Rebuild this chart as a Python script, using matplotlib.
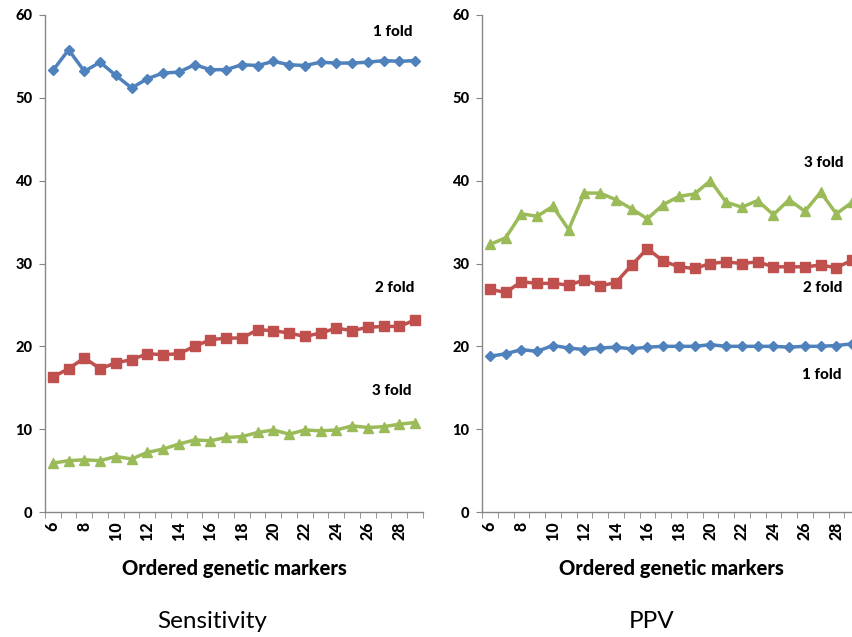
import matplotlib.pyplot as plt
import numpy as np

# ordered genetic markers on x
markers = list(range(6, 30))

# Sensitivity panel
sens_1fold = [53.3, 55.8, 53.2, 54.3, 52.7, 51.2, 52.3, 53.0, 53.1, 54.0, 53.4, 53.4,
              54.0, 53.9, 54.4, 54.0, 53.9, 54.3, 54.2, 54.2, 54.3, 54.5, 54.4, 54.5]
sens_2fold = [16.3, 17.3, 18.6, 17.3, 18.0, 18.4, 19.1, 19.0, 19.1, 20.0, 20.8, 21.0,
              21.0, 22.0, 21.9, 21.6, 21.2, 21.6, 22.2, 21.9, 22.3, 22.4, 22.4, 23.2]
sens_3fold = [5.9, 6.2, 6.3, 6.2, 6.7, 6.4, 7.2, 7.6, 8.2, 8.7, 8.6, 9.0,
              9.1, 9.6, 9.9, 9.4, 9.9, 9.8, 9.9, 10.4, 10.2, 10.3, 10.6, 10.8]

# PPV panel
ppv_1fold = [18.8, 19.1, 19.6, 19.4, 20.1, 19.8, 19.6, 19.8, 19.9, 19.7, 19.9, 20.0,
             20.0, 20.0, 20.2, 20.0, 20.0, 20.0, 20.0, 19.9, 20.0, 20.0, 20.1, 20.3]
ppv_2fold = [26.9, 26.5, 27.8, 27.6, 27.6, 27.4, 28.0, 27.3, 27.7, 29.8, 31.8, 30.3,
             29.6, 29.4, 30.0, 30.2, 30.0, 30.2, 29.6, 29.6, 29.6, 29.8, 29.5, 30.4]
ppv_3fold = [32.3, 33.1, 36.0, 35.7, 36.9, 34.1, 38.5, 38.5, 37.7, 36.6, 35.4, 37.1,
             38.1, 38.4, 40.0, 37.4, 36.8, 37.6, 35.9, 37.7, 36.3, 38.6, 36.0, 37.4]

blue = '#4F81BD'
red = '#C0504D'
green = '#9BBB59'
FONT = 'Lato'

fig = plt.figure(figsize=(8.53, 6.37), dpi=100)
W, H = 853, 637


def make_axes(left_px):
    ax = fig.add_axes([left_px / W, 1 - 512 / H, 378 / W, 497 / H])
    x = np.arange(len(markers))
    ax.set_xlim(-0.5, len(markers) - 0.5)
    ax.set_ylim(0, 60)
    ax.set_yticks(range(0, 61, 10))
    ax.set_yticklabels([str(v) for v in range(0, 61, 10)],
                       fontfamily=FONT, fontweight='black', fontsize=10.5)
    ax.set_xticks(x[::2])
    ax.set_xticklabels([str(m) for m in markers[::2]], rotation=90,
                       fontfamily=FONT, fontweight='black', fontsize=11.5)
    ax.set_xticks(np.arange(-0.5, len(markers)), minor=True)
    ax.tick_params(axis='x', which='major', length=0, pad=7)
    ax.tick_params(axis='x', which='minor', length=4, color='#868686', direction='out')
    ax.tick_params(axis='y', length=4, color='#868686', direction='out', pad=5)
    for s in ['top', 'right']:
        ax.spines[s].set_visible(False)
    for s in ['left', 'bottom']:
        ax.spines[s].set_color('#868686')
        ax.spines[s].set_linewidth(1)
    ax.set_xlabel('Ordered genetic markers', fontfamily=FONT, fontweight='black',
                  fontsize=14.5, labelpad=13)
    return ax, x


def draw(ax, x, y, color, marker, ms):
    ax.plot(x, y, color=color, lw=2.5, marker=marker, ms=ms,
            markerfacecolor=color, markeredgecolor=color, clip_on=False)


ax1, x = make_axes(45)
draw(ax1, x, sens_1fold, blue, 'D', 5.5)
draw(ax1, x, sens_2fold, red, 's', 7)
draw(ax1, x, sens_3fold, green, '^', 7)
lab = dict(fontfamily=FONT, fontweight='black', fontsize=11, ha='center', va='center')
ax1.text(21.6, 58.0, '1 fold', **lab)
ax1.text(21.7, 27.0, '2 fold', **lab)
ax1.text(21.5, 14.6, '3 fold', **lab)

ax2, x = make_axes(482)
draw(ax2, x, ppv_1fold, blue, 'D', 5.5)
draw(ax2, x, ppv_2fold, red, 's', 7)
draw(ax2, x, ppv_3fold, green, '^', 7)
ax2.text(21.2, 42.1, '3 fold', **lab)
ax2.text(21.1, 27.0, '2 fold', **lab)
ax2.text(21.1, 16.5, '1 fold', **lab)

fig.text(212 / W, 1 - 622 / H, 'Sensitivity', fontfamily=FONT, fontsize=17.5,
         ha='center', va='center')
fig.text(652 / W, 1 - 622 / H, 'PPV', fontfamily=FONT, fontsize=17.5,
         ha='center', va='center')

fig.savefig('out.png', dpi=100)
